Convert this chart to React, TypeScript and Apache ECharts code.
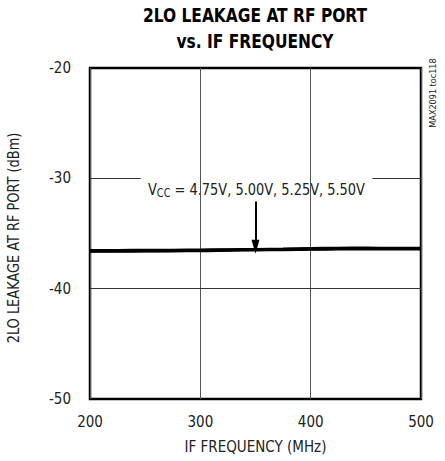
import React, { useEffect, useRef } from "react";
import * as echarts from "echarts";

const freqs = [200, 225, 250, 275, 300, 325, 350, 375, 400, 425, 450, 475, 500];
const vcc475 = [-36.64, -36.63, -36.62, -36.6, -36.59, -36.55, -36.51, -36.49, -36.46, -36.43, -36.42, -36.43, -36.42];
const vcc500 = [-36.6, -36.59, -36.58, -36.57, -36.55, -36.52, -36.48, -36.46, -36.42, -36.39, -36.38, -36.39, -36.38];
const vcc525 = [-36.56, -36.55, -36.54, -36.53, -36.51, -36.48, -36.45, -36.42, -36.38, -36.35, -36.34, -36.35, -36.34];
const vcc550 = [-36.52, -36.51, -36.5, -36.49, -36.47, -36.45, -36.42, -36.39, -36.34, -36.31, -36.3, -36.31, -36.31];
const seriesNames = ["4.75V", "5.00V", "5.25V", "5.50V"];
const yTicks = [-50, -40, -30, -20];
const xTicks = [200, 300, 400, 500];

const FONT = "'Liberation Sans Narrow', 'DejaVu Sans Condensed', Arial, sans-serif";

export default function App() {
  const ref = useRef<HTMLDivElement>(null);
  useEffect(() => {
    if (!ref.current) return;
    const chart = echarts.init(ref.current, null, { renderer: "svg" });
    const all = [vcc475, vcc500, vcc525, vcc550];
    const lineSeries = all.map((vals, i) => ({
      name: seriesNames[i],
      type: "line",
      data: freqs.map((f, j) => [f, vals[j]]),
      showSymbol: false,
      smooth: true,
      lineStyle: { color: "#000", width: 2.5 },
      z: 5,
    }));
    chart.setOption({
      animation: false,
      backgroundColor: "#fff",
      textStyle: { fontFamily: FONT },
      grid: {
        left: 90,
        top: 68,
        width: 331,
        height: 331,
        outerBoundsMode: "none",
        containLabel: false,
        show: true,
        borderColor: "#000",
        borderWidth: 2.5,
        backgroundColor: "transparent",
      },
      xAxis: {
        type: "value",
        min: xTicks[0],
        max: xTicks[xTicks.length - 1],
        interval: 100,
        name: "IF FREQUENCY (MHz)",
        nameLocation: "middle",
        nameGap: 40,
        nameTextStyle: { fontFamily: FONT, fontSize: 15, color: "#222" },
        axisLine: { show: false },
        axisTick: { show: false },
        axisLabel: { fontFamily: FONT, fontSize: 15, color: "#222", margin: 15 },
        splitLine: { show: true, lineStyle: { color: "#555", width: 1 } },
      },
      yAxis: {
        type: "value",
        min: yTicks[0],
        max: yTicks[yTicks.length - 1],
        interval: 10,
        axisLine: { show: false },
        axisTick: { show: false },
        axisLabel: { fontFamily: FONT, fontSize: 15, color: "#222", margin: 19 },
        splitLine: { show: false },
      },
      series: [
        ...lineSeries,
        {
          type: "line",
          data: [],
          silent: true,
          markLine: {
            silent: true,
            symbol: "none",
            label: { show: false },
            lineStyle: { color: "#333", width: 1, type: "solid" },
            data: [
              [{ coord: [200, -40] }, { coord: [500, -40] }],
              [{ coord: [200, -30] }, { coord: [246, -30] }],
              [{ coord: [456, -30] }, { coord: [500, -30] }],
            ],
          },
        },
        {
          type: "line",
          data: [],
          silent: true,
          z: 6,
          markLine: {
            silent: true,
            symbol: ["none", "triangle"],
            symbolSize: [8, 14],
            symbolRotate: 180,
            label: { show: false },
            lineStyle: { color: "#000", width: 2, type: "solid" },
            data: [[{ coord: [350, -32.1] }, { coord: [350, -36.2] }]],
          },
        },
      ],
      graphic: [
        {
          type: "text",
          x: 255,
          y: 2,
          scaleX: 0.86,
          style: {
            text: "2LO LEAKAGE AT RF PORT\nvs. IF FREQUENCY",
            fontFamily: FONT,
            fontWeight: "bold",
            fontSize: 20,
            lineHeight: 26,
            fill: "#000",
            align: "center",
            verticalAlign: "top",
          },
        },
        {
          type: "text",
          x: 13,
          y: 238,
          rotation: Math.PI / 2,
          scaleX: 0.96,
          style: {
            text: "2LO LEAKAGE AT RF PORT (dBm)",
            fontFamily: FONT,
            fontSize: 15,
            fill: "#222",
            align: "center",
            verticalAlign: "middle",
          },
        },
        {
          type: "text",
          x: 148,
          y: 180,
          scaleX: 0.9,
          style: {
            text: "{v|V}{s|CC}{t| = 4.75V, 5.00V, 5.25V, 5.50V}",
            rich: {
              v: { fontFamily: FONT, fontSize: 16, fill: "#222", lineHeight: 20 },
              s: { fontFamily: FONT, fontSize: 12, fill: "#222", padding: [6, 0, 0, 0], lineHeight: 20 },
              t: { fontFamily: FONT, fontSize: 16, fill: "#222", lineHeight: 20 },
            },
          },
        },
        {
          type: "text",
          x: 433,
          y: 93,
          rotation: Math.PI / 2,
          style: {
            text: "MAX2091 toc118",
            fontFamily: FONT,
            fontSize: 9,
            fill: "#222",
            align: "center",
            verticalAlign: "middle",
          },
        },
      ],
    });
    return () => chart.dispose();
  }, []);
  return <div ref={ref} style={{ width: 445, height: 461, position: "absolute", left: 0, top: 0 }} />;
}
